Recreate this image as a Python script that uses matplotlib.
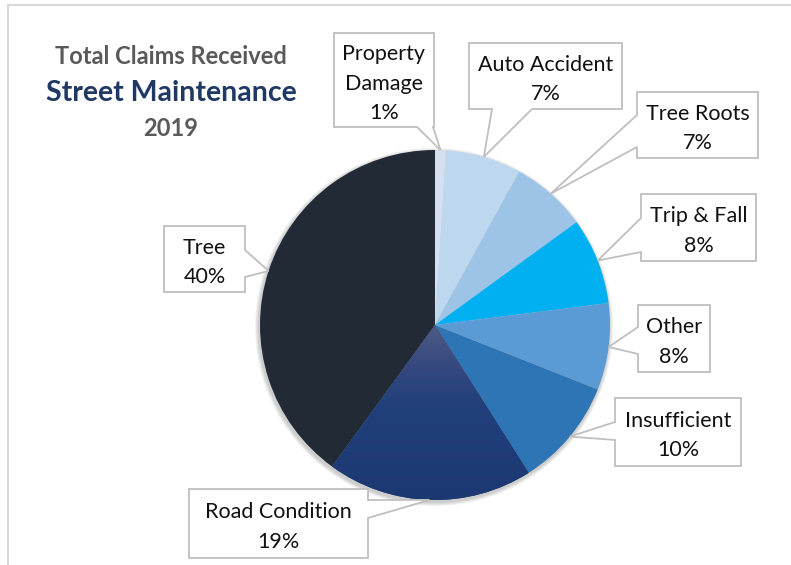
import numpy as np
import matplotlib.pyplot as plt
from matplotlib.patches import Polygon, Circle
from matplotlib.colors import LinearSegmentedColormap

# data (clockwise from 12 o'clock)
categories = ['Property\nDamage', 'Auto Accident', 'Tree Roots', 'Trip & Fall',
              'Other', 'Insufficient', 'Road Condition', 'Tree']
shares = [1, 7, 7, 8, 8, 10, 19, 40]
colors = ['#d5dff0', '#bdd7ee', '#9dc3e6', '#00b0f0',
          '#5b9bd5', '#2e75b6', '#1f3c78', '#222a35']

W, H = 791, 565
cx, cy, R = 435, 325, 175   # pie centre / radius in image pixels


def Y(y):
    # image y (down) -> data y (up)
    return H - y


# callout boxes in image pixels: (left, top, right, bottom, side, base1, base2)
boxes = [
    (334, 33, 434, 127, 'bottom', 417, 433),
    (469, 43, 622, 109, 'bottom', 492, 532),
    (637, 92, 758, 158, 'left', 115, 147),
    (641, 194, 756, 261, 'left', 218, 252),
    (638, 305, 710, 372, 'left', 327, 354),
    (615, 398, 741, 466, 'left', 422, 440),
    (189, 489, 368, 558, 'right', 500, 518),
    (164, 226, 245, 292, 'right', 250, 277),
]


def callout(ax, box, tip):
    x0, y0, x1, y1, side, b1, b2 = box
    pts = [(x0, y0)]
    if side == 'top':
        pts += [(b1, y0), tip, (b2, y0)]
    pts.append((x1, y0))
    if side == 'right':
        pts += [(x1, b1), tip, (x1, b2)]
    pts.append((x1, y1))
    if side == 'bottom':
        pts += [(b2, y1), tip, (b1, y1)]
    pts.append((x0, y1))
    if side == 'left':
        pts += [(x0, b2), tip, (x0, b1)]
    pts = [(px, Y(py)) for px, py in pts]
    ax.add_patch(Polygon(pts, closed=True, facecolor='white',
                         edgecolor='#bfbfbf', lw=1.3, zorder=5))


fig = plt.figure(figsize=(W / 100, H / 100), dpi=100)
ax = fig.add_axes([0, 0, 1, 1])

# soft shadow behind the pie
for k, a in enumerate([0.05, 0.05, 0.05, 0.05]):
    ax.add_patch(Circle((cx - 1, Y(cy) - 2), R + 4 - k, color='k', alpha=a,
                        lw=0, zorder=0))

wedges, _ = ax.pie(shares, colors=colors, startangle=90, counterclock=False,
                   center=(cx, Y(cy)), radius=R,
                   wedgeprops=dict(linewidth=0))

# gradient on the Road Condition slice
cmap = LinearSegmentedColormap.from_list(
    'road', [(0, '#4d5b85'), (0.25, '#34487f'), (0.45, '#22407c'), (1, '#1b3871')])
grad = np.linspace(0, 1, 256).reshape(-1, 1)
im = ax.imshow(grad, cmap=cmap, aspect='auto', origin='upper',
               extent=[cx - R, cx + R, Y(cy + R), Y(cy)], zorder=2)
im.set_clip_path(wedges[6])

font = 'Lato'
for w, lab, val, box in zip(wedges, categories, shares, boxes):
    th = np.deg2rad((w.theta1 + w.theta2) / 2)
    tip = (cx + R * np.cos(th), cy - R * np.sin(th))
    callout(ax, box, tip)
    x0, y0, x1, y1 = box[:4]
    ax.text((x0 + x1) / 2, Y((y0 + y1) / 2 + 3.5), f'{lab}\n{val}%',
            ha='center', va='center', fontsize=15.5, family=font,
            color='#111111', linespacing=1.62, zorder=6)

# title block
ax.text(171, Y(57), 'Total Claims Received', ha='center', va='center',
        fontsize=17, family=font, weight='bold', color='#595959')
ax.text(171, Y(93), 'Street Maintenance', ha='center', va='center',
        fontsize=20.5, family=font, weight='bold', color='#1f3864')
ax.text(171, Y(128), '2019', ha='center', va='center',
        fontsize=17, family=font, weight='bold', color='#595959')

# light frame on top/left like the source screenshot
ax.plot([8, 8], [Y(5), Y(H)], color='#d9d9d9', lw=1.5)
ax.plot([8, W], [Y(5), Y(5)], color='#d9d9d9', lw=1.5)

ax.set_xlim(0, W)
ax.set_ylim(0, H)
ax.set_aspect('equal')
ax.axis('off')
fig.savefig('out.png', dpi=100)
